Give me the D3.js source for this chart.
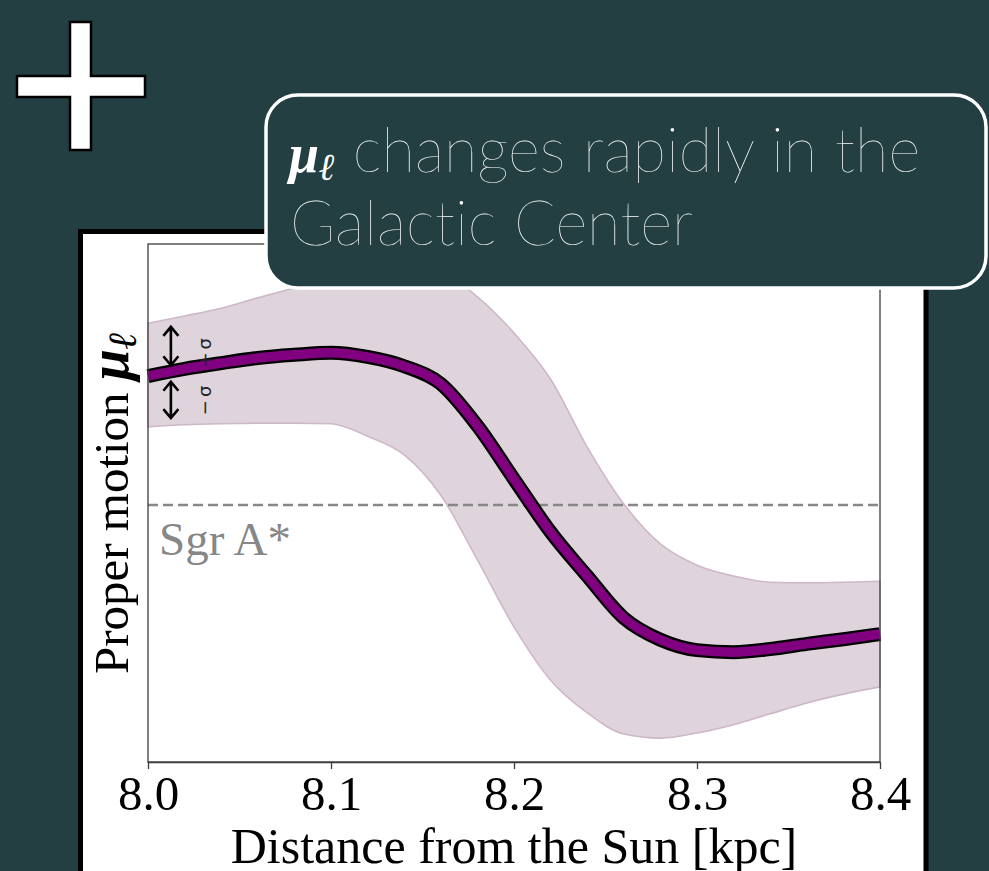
<!DOCTYPE html>
<html>
<head>
<meta charset="utf-8">
<script src="https://cdn.jsdelivr.net/npm/d3@7/dist/d3.min.js"></script>
<style>
  html, body { margin: 0; padding: 0; background: #233f42; }
  svg { display: block; }
  text { font-variant-ligatures: none; }
</style>
</head>
<body>
<script>
// ---------------- data ----------------
const distance = [8.00, 8.02, 8.04, 8.06, 8.08, 8.10, 8.12, 8.14, 8.16, 8.18, 8.20,
                  8.22, 8.24, 8.26, 8.28, 8.30, 8.32, 8.34, 8.36, 8.38, 8.40];
const muCenter = [2.45, 2.59, 2.70, 2.80, 2.86, 2.90, 2.82, 2.64, 2.30, 1.49, 0.46,
                  -0.56, -1.41, -2.22, -2.64, -2.84, -2.88, -2.82, -2.72, -2.63, -2.53];
const muUpper  = [3.47, 3.61, 3.76, 3.96, 4.15, 4.34, 4.50, 4.58, 4.46, 3.98, 3.28,
                  2.39, 1.08, -0.02, -0.79, -1.20, -1.41, -1.53, -1.54, -1.53, -1.51];
const muLower  = [1.47, 1.51, 1.53, 1.54, 1.54, 1.53, 1.29, 0.93, 0.15, -1.10, -2.39,
                  -3.42, -4.05, -4.46, -4.54, -4.44, -4.28, -4.07, -3.86, -3.69, -3.55];
const xTicks = [8.0, 8.1, 8.2, 8.3, 8.4];
const xTickLabels = ["8.0", "8.1", "8.2", "8.3", "8.4"];
const sgrALevel = -0.04;
const sigmaArrowX = 8.0125;
const plusArrow = [2.66, 3.40];
const minusArrow = [1.64, 2.34];
const plusLabel = { x: 8.032, y: 2.93, text: "+σ" };
const minusLabel = { x: 8.032, y: 2.01, text: "−σ" };

const W = 989, H = 871;
const svg = d3.select("body").append("svg").attr("width", W).attr("height", H);

// background
svg.append("rect").attr("width", W).attr("height", H).attr("fill", "#233f42");

// plus sign
svg.append("path")
  .attr("d", "M70,22 H91 V76 H145 V97 H91 V150 H70 V97 H17 V76 H70 Z")
  .attr("fill", "#ffffff").attr("stroke", "#000").attr("stroke-width", 2.5);

// white panel
svg.append("rect").attr("x", 80.5).attr("y", 231.5).attr("width", 845.5).attr("height", 700)
  .attr("fill", "#ffffff").attr("stroke", "#000").attr("stroke-width", 5);

// scales
const x = d3.scaleLinear().domain([8.0, 8.4]).range([148, 880]);
const y = d3.scaleLinear().domain([-5, 5]).range([762, 244]);

const g = svg.append("g");
const pts = distance.map((d, i) => ({ d, c: muCenter[i], u: muUpper[i], l: muLower[i] }));
const curve = d3.curveMonotoneX;

// band
g.append("path").datum(pts)
  .attr("d", d3.area().x(p => x(p.d)).y0(p => y(p.l)).y1(p => y(p.u)).curve(curve))
  .attr("fill", "#dfd4dc").attr("stroke", "#cdb8c8").attr("stroke-width", 1.6);

// Sgr A* line
g.append("line").attr("x1", x(8.0)).attr("x2", x(8.4))
  .attr("y1", y(sgrALevel)).attr("y2", y(sgrALevel))
  .attr("stroke", "#878787").attr("stroke-width", 2.6).attr("stroke-dasharray", "10,5");
g.append("text").attr("x", 159).attr("y", y(sgrALevel) + 50)
  .attr("font-family", "'Liberation Serif', 'Times New Roman', serif")
  .attr("font-size", 47).attr("fill", "#878787").text("Sgr A*");

// center line
const line = d3.line().x(p => x(p.d)).y(p => y(p.c)).curve(curve);
g.append("path").datum(pts).attr("d", line).attr("fill", "none")
  .attr("stroke", "#000").attr("stroke-width", 14);
g.append("path").datum(pts).attr("d", line).attr("fill", "none")
  .attr("stroke", "#800080").attr("stroke-width", 9.5);

// sigma arrows
function dblArrow(x0, ya, yb) {
  const X = x(x0), Y1 = y(yb), Y2 = y(ya);
  const p = d3.path();
  p.moveTo(X, Y1); p.lineTo(X, Y2);
  p.moveTo(X - 7.5, Y1 + 9); p.lineTo(X, Y1); p.lineTo(X + 7.5, Y1 + 9);
  p.moveTo(X - 7.5, Y2 - 9); p.lineTo(X, Y2); p.lineTo(X + 7.5, Y2 - 9);
  g.append("path").attr("d", p.toString()).attr("fill", "none")
    .attr("stroke", "#000").attr("stroke-width", 2.6);
}
dblArrow(sigmaArrowX, plusArrow[0], plusArrow[1]);
dblArrow(sigmaArrowX, minusArrow[0], minusArrow[1]);
[plusLabel, minusLabel].forEach(l => {
  g.append("text")
    .attr("transform", `translate(${x(l.x) + 4},${y(l.y)}) rotate(-90)`)
    .attr("text-anchor", "middle")
    .attr("font-family", "'DejaVu Sans', sans-serif").attr("font-size", 18)
    .attr("letter-spacing", 3)
    .attr("fill", "#222").text(l.text);
});

// axes
const spine = "#3c3c3c";
g.append("rect").attr("x", x(8.0)).attr("y", y(5)).attr("width", x(8.4) - x(8.0))
  .attr("height", y(-5) - y(5)).attr("fill", "none").attr("stroke", spine).attr("stroke-width", 1.3);
const xAxis = d3.axisBottom(x).tickValues(xTicks)
  .tickFormat((d, i) => xTickLabels[i]).tickSizeOuter(0).tickSizeInner(7).tickPadding(6);
const ax = g.append("g").attr("transform", `translate(0,${y(-5)})`).call(xAxis);
ax.select(".domain").attr("stroke", spine).attr("stroke-width", 1.3);
ax.selectAll(".tick line").attr("stroke", spine).attr("stroke-width", 1.3);
ax.selectAll(".tick text").attr("font-family", "'Liberation Serif', 'Times New Roman', serif")
  .attr("font-size", 49).attr("fill", "#000").attr("dy", null).attr("y", 48);

// axis labels
g.append("text").attr("x", x(8.2)).attr("y", 863).attr("text-anchor", "middle")
  .attr("font-family", "'Liberation Serif', 'Times New Roman', serif")
  .attr("font-size", 50).attr("fill", "#000").text("Distance from the Sun [kpc]");

const yl = g.append("text").attr("transform", `translate(128,${(y(5) + y(-5)) / 2}) rotate(-90)`)
  .attr("text-anchor", "middle")
  .attr("font-family", "'Liberation Serif', 'Times New Roman', serif")
  .attr("font-size", 49).attr("fill", "#000");
yl.append("tspan").text("Proper motion ");
yl.append("tspan").attr("font-weight", "bold")
  .attr("font-style", "italic").attr("font-size", 56).text("μ");
yl.append("tspan").attr("font-weight", "bold")
  .attr("font-style", "italic").attr("font-size", 40).attr("dy", 8).text("ℓ");

// callout
svg.append("rect").attr("x", 266).attr("y", 95).attr("width", 720).attr("height", 193)
  .attr("rx", 32).attr("ry", 32)
  .attr("fill", "#233f42").attr("stroke", "#ffffff").attr("stroke-width", 3.5);

const ct = svg.append("g").attr("fill", "#ffffff");
const t1 = ct.append("text").attr("x", 289).attr("y", 172)
  .attr("font-family", "Lato, 'Open Sans', sans-serif").attr("font-weight", 200).attr("font-size", 61.5);
t1.append("tspan").attr("font-family", "'Liberation Serif', serif").attr("font-weight", "bold")
  .attr("font-style", "italic").attr("font-size", 54).text("μ");
t1.append("tspan").attr("font-family", "'Liberation Serif', serif").attr("font-weight", "bold")
  .attr("font-style", "italic").attr("font-size", 38).attr("dy", 8).text("ℓ");
t1.append("tspan").attr("dy", -8).text(" changes rapidly in the");
ct.append("text").attr("x", 290).attr("y", 245)
  .attr("font-family", "Lato, 'Open Sans', sans-serif").attr("font-weight", 200).attr("font-size", 61.5)
  .text("Galactic Center");
</script>
</body>
</html>
